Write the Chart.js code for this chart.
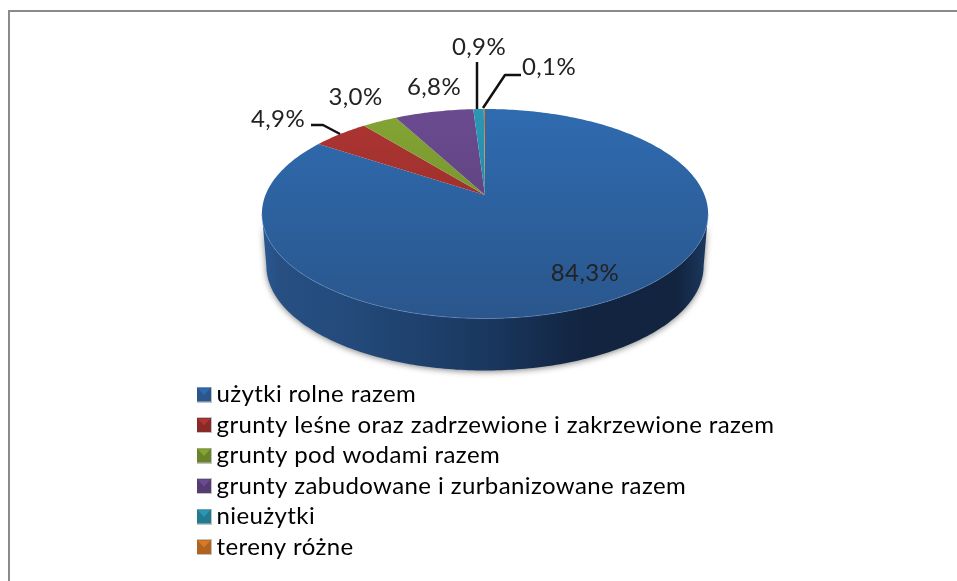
<!DOCTYPE html>
<html><head><meta charset="utf-8">
<style>html,body{margin:0;padding:0;background:#fff}#w{position:absolute;left:0;top:0;width:957px;height:581px}</style>
<script src="https://cdn.jsdelivr.net/npm/chart.js@4"></script>
</head><body><div id="w"><canvas id="c" width="957" height="581"></canvas></div>
<script>
const categories=["użytki rolne razem","grunty leśne oraz zadrzewione i zakrzewione razem","grunty pod wodami razem","grunty zabudowane i zurbanizowane razem","nieużytki","tereny różne"];
const seriesValues=[84.3,4.9,3.0,6.8,0.9,0.1];
const sliceColors=["#2f6bb0","#ae3532","#84a534","#6b4b90","#2b97b5","#d97a24"];
const sliceDark=["#2a568c","#8a2a28","#688328","#553b72","#237990","#b06320"];
const valueLabels=["84,3%","4,9%","3,0%","6,8%","0,9%","0,1%"];
const labelAnchors=[[585,273],[278,119],[355.5,97],[434,87],[479,47],[549,67]];
const leaderLines=[null,[[311,125],[323,125],[340,134]],null,null,[[477,62],[477,109]],[[521,75],[505,75],[483,108]]];

const APEX={x:485,y:195},RX=219.5,RY=101.4,K=0.179,DEPTH=52,WALL_SCALE=0.98;
function proj(theta){ // theta: canvas angle, -PI/2 is the top of the pie
  const u=Math.cos(theta),v=Math.sin(theta),w=1-K*v;
  return {x:APEX.x+RX*u/w,y:APEX.y+RY*v/w};
}
function lower(p){return {x:APEX.x+(p.x-APEX.x)*WALL_SCALE,y:p.y+DEPTH};}
// The front wall runs between the two points of widest extent
const wallFrom=Math.asin(K),wallTo=Math.PI-Math.asin(K);
Chart.ArcElement.prototype.draw=function(ctx){
  const o=this.options,a=this.startAngle,b=this.endAngle;
  const idx=this.$context?this.$context.dataIndex:0;
  const start=Math.max(a,wallFrom),end=Math.min(b,wallTo),n=180;
  if(end>start){
    const L=APEX.x-RX*1.02,R=APEX.x+RX*1.02;
    const g=ctx.createLinearGradient(L,0,R,0);
    g.addColorStop(0,"#2a5a95");g.addColorStop(0.04,"#274f82");g.addColorStop(0.2,"#234a7a");g.addColorStop(0.5,"#1a3860");g.addColorStop(0.72,"#122440");g.addColorStop(0.93,"#12243f");g.addColorStop(1,"#1c3a60");
    ctx.save();ctx.shadowColor="rgba(0,0,0,0.5)";ctx.shadowBlur=6;ctx.shadowOffsetY=1;
    ctx.beginPath();
    for(let i=0;i<=n;i++){const p=proj(start+(end-start)*i/n);i?ctx.lineTo(p.x,p.y):ctx.moveTo(p.x,p.y);}
    for(let i=n;i>=0;i--){const p=lower(proj(start+(end-start)*i/n));ctx.lineTo(p.x,p.y);}
    ctx.closePath();ctx.fillStyle=g;ctx.fill();ctx.restore();
  }
  ctx.beginPath();ctx.moveTo(APEX.x,APEX.y);
  const m=Math.max(2,Math.ceil((b-a)*60));
  for(let i=0;i<=m;i++){const p=proj(a+(b-a)*i/m);ctx.lineTo(p.x,p.y);}
  ctx.closePath();
  const tg=ctx.createLinearGradient(0,APEX.y-86,0,APEX.y+124);
  tg.addColorStop(0,o.backgroundColor);tg.addColorStop(1,sliceDark[idx]);
  ctx.fillStyle=tg;ctx.fill();
  if(end>start){ // faint highlight along the front rim
    ctx.save();ctx.beginPath();
    for(let i=0;i<=n;i++){const p=proj(start+(end-start)*i/n);i?ctx.lineTo(p.x,p.y):ctx.moveTo(p.x,p.y);}
    ctx.strokeStyle="rgba(120,165,220,0.4)";ctx.lineWidth=1;ctx.stroke();ctx.restore();
  }
};
function legendIcon(top,dark){
  const s=document.createElement("canvas");s.width=16;s.height=16;
  const c=s.getContext("2d");
  c.fillStyle="#9a9a9a";c.globalAlpha=0.6;c.fillRect(0,0,16,16);c.globalAlpha=1;
  c.fillStyle=dark;c.fillRect(1,1,14,14);
  c.beginPath();c.moveTo(1.5,1.5);c.lineTo(14.5,1.5);c.lineTo(8,8.5);c.closePath();c.fillStyle=top;c.fill();
  return s;
}
const legendIcons=sliceColors.map((t,i)=>legendIcon(t,sliceDark[i]));
const TEXT_SPACING="0.4px";
const placeLegend={id:"placeLegend",
  beforeUpdate(chart){chart.ctx.letterSpacing=TEXT_SPACING;},
  beforeDraw(chart){chart.ctx.letterSpacing=TEXT_SPACING;},
  afterUpdate(chart){const l=chart.legend,h=l.height;l.left=197;l.right=900;l.top=376;l.bottom=376+h;}
};
const frame={id:"frame",beforeDraw(chart){
  const c=chart.ctx;c.save();c.fillStyle="#8a8a8a";c.fillRect(8,10,949,2);c.fillRect(8,10,2,571);c.restore();
}};
const valueText={id:"valueText",afterDraw(chart){
  const c=chart.ctx;c.save();
  c.strokeStyle="#111";c.lineWidth=2.5;c.lineJoin="round";
  leaderLines.forEach(l=>{if(!l)return;c.beginPath();l.forEach((p,i)=>i?c.lineTo(p[0],p[1]):c.moveTo(p[0],p[1]));c.stroke();});
  c.fillStyle="#222";c.font='24px Lato';c.textAlign="center";c.textBaseline="middle";
  valueLabels.forEach((t,i)=>c.fillText(t,labelAnchors[i][0],labelAnchors[i][1]));
  c.restore();
}};
new Chart(document.getElementById("c"),{
  type:"pie",
  data:{labels:categories,datasets:[{data:seriesValues,backgroundColor:sliceColors,borderWidth:0}]},
  plugins:[placeLegend,frame,valueText],
  options:{responsive:false,animation:false,rotation:0,
    layout:{padding:0},
    plugins:{tooltip:{enabled:false},
      legend:{position:"left",align:"start",fullSize:false,
        labels:{color:"#222",font:{family:"Lato",size:24},boxWidth:1,boxHeight:1,padding:6.5,usePointStyle:true,
          generateLabels(ch){return categories.map((t,i)=>({text:t,pointStyle:legendIcons[i],fillStyle:sliceColors[i],strokeStyle:sliceDark[i],lineWidth:0,index:i,datasetIndex:0,hidden:false}));}}}
    }}
});
</script></body></html>
